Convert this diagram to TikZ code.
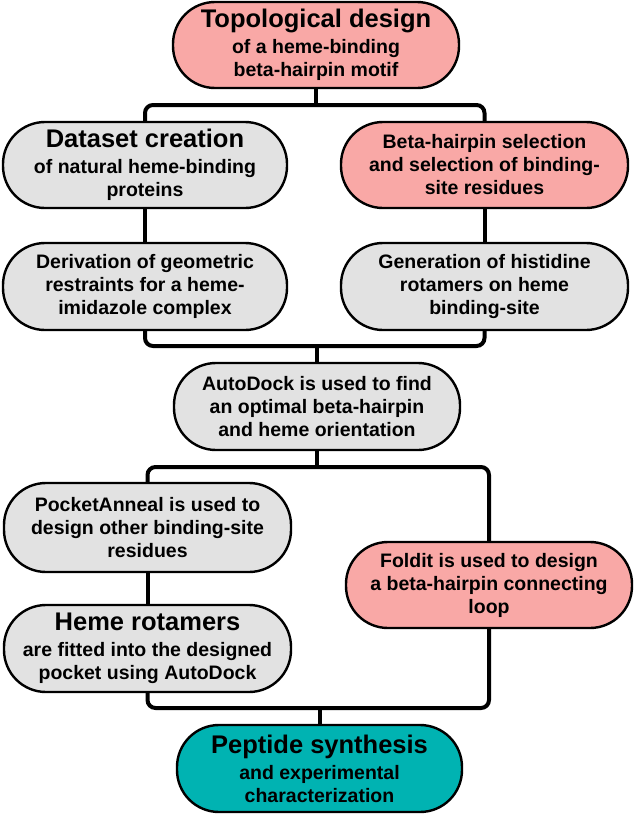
\documentclass[tikz,border=0pt]{standalone}
\usepackage{fontspec}
\setmainfont{Liberation Sans}
\definecolor{boxpink}{RGB}{249,168,166}
\definecolor{boxgrey}{RGB}{226,226,226}
\definecolor{boxteal}{RGB}{0,179,178}
\newcommand\headtxt[1]{{\fontsize{25.5}{28}\selectfont #1}}
\begin{document}
\begin{tikzpicture}[x=1pt,y=-1pt,
  box/.style={draw=black, line width=2.4pt, align=center, inner sep=0pt,
    rounded corners=42pt, minimum width=286pt, minimum height=86pt,
    font=\bfseries\fontsize{19.5}{23}\selectfont},
  pinkbox/.style={box, fill=boxpink},
  greybox/.style={box, fill=boxgrey},
  tealbox/.style={box, fill=boxteal},
  conn/.style={draw=black, line width=4pt, rounded corners=8pt}]
\useasboundingbox (0,0) rectangle (633,814);

\node[pinkbox] (top) at (316,45)
  {\headtxt{Topological design}\\[3pt] of a heme-binding\\ beta-hairpin motif};
\node[greybox, minimum width=284pt] (ds) at (145,165)
  {\headtxt{Dataset creation}\\[3pt] of natural heme-binding\\ proteins};
\node[pinkbox, minimum width=287pt] (bh) at (484.5,165)
  {Beta-hairpin selection\\ and selection of binding-\\ site residues};
\node[greybox, minimum width=284pt, minimum height=87pt] (dv) at (145,286.5)
  {Derivation of geometric\\ restraints for a heme-\\ imidazole complex};
\node[greybox, minimum width=287pt, minimum height=87pt] (gen) at (484.5,286.5)
  {Generation of histidine\\ rotamers on heme\\ binding-site};
\node[greybox, minimum height=87pt] (ad) at (317,406.5)
  {AutoDock is used to find\\ an optimal beta-hairpin\\ and heme orientation};
\node[greybox, minimum width=287pt, minimum height=89pt] (pa) at (147.5,527.5)
  {PocketAnneal is used to\\ design other binding-site\\ residues};
\node[greybox, minimum width=287pt, minimum height=87pt] (hr) at (147.5,648.5)
  {\headtxt{Heme rotamers}\\[3pt] are fitted into the designed\\ pocket using AutoDock};
\node[pinkbox] (fo) at (489,585)
  {Foldit is used to design\\ a beta-hairpin connecting\\ loop};
\node[tealbox, minimum width=285pt, minimum height=87pt] (pep) at (319.5,768.5)
  {\headtxt{Peptide synthesis}\\[3pt] and experimental\\ characterization};

\coordinate (j1) at (316,105);
\coordinate (j2) at (317,346);
\coordinate (j3) at (317,467);
\coordinate (j4) at (319.5,708);

\draw[conn] (top.south) -- (j1);
\draw[conn] (ds.north) |- (j1) -| (bh.north);
\draw[conn] (ds.south) -- (dv.north);
\draw[conn] (bh.south) -- (gen.north);
\draw[conn] (dv.south) |- (j2) -| (gen.south);
\draw[conn] (j2) -- (ad.north);
\draw[conn] (ad.south) -- (j3);
\draw[conn] (pa.north) |- (j3) -| (fo.north);
\draw[conn] (pa.south) -- (hr.north);
\draw[conn] (hr.south) |- (j4) -| (fo.south);
\draw[conn] (j4) -- (pep.north);
\end{tikzpicture}
\end{document}
